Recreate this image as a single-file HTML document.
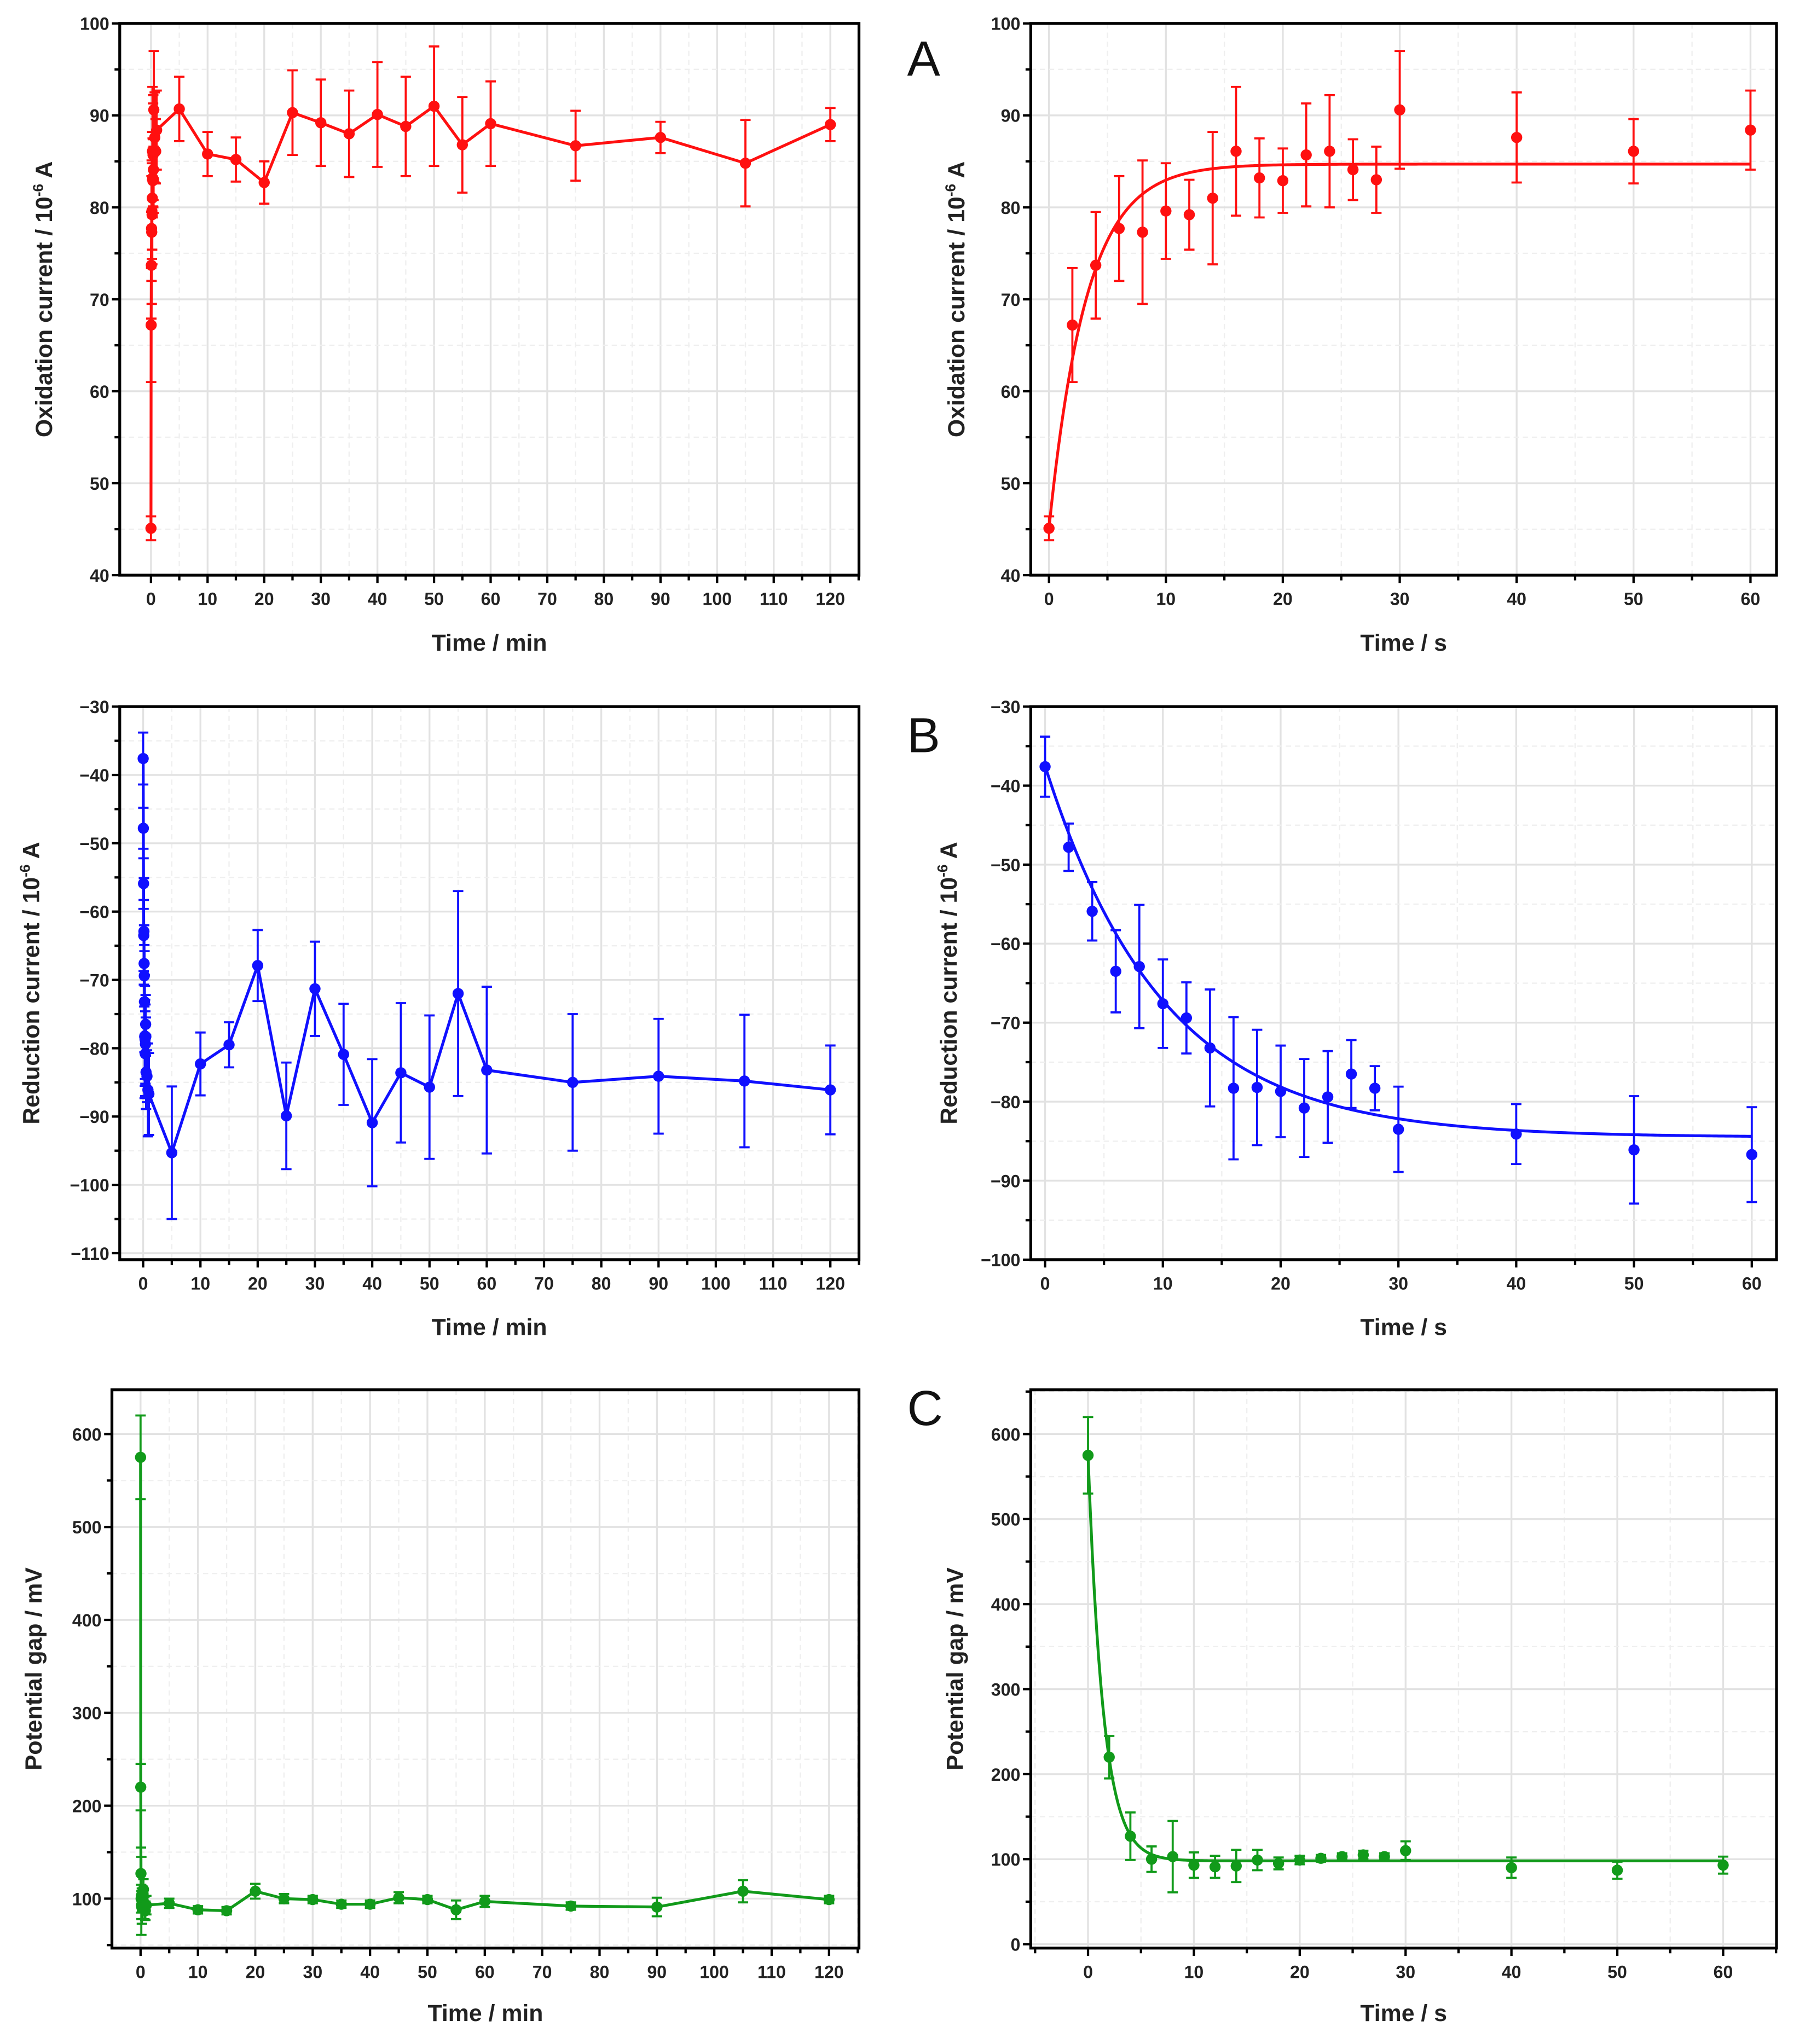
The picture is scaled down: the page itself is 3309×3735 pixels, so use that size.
<!DOCTYPE html>
<html><head><meta charset="utf-8"><style>
html,body{margin:0;padding:0;background:#fff}
svg{display:block}
text{font-family:"Liberation Sans",Arial,sans-serif}
</style></head><body>
<svg id="fig" width="3309" height="3735" viewBox="0 0 1391.5 1570.7" preserveAspectRatio="none" xmlns="http://www.w3.org/2000/svg"></svg>
<script>
// ---- data ----
const oxSecT=[0,2,4,6,8,10,12,14,16,18,20,22,24,26,28,30,40,50,60];
const oxSecV=[45.1,67.2,73.7,77.7,77.3,79.6,79.2,81,86.1,83.2,82.9,85.7,86.1,84.1,83,90.6,87.6,86.1,88.4];
const oxSecE=[1.3,6.2,5.8,5.7,7.8,5.2,3.8,7.2,7,4.3,3.5,5.6,6.1,3.3,3.6,6.4,4.9,3.5,4.3];
const oxMinT=[5,10,15,20,25,30,35,40,45,50,55,60,75,90,105,120];
const oxMinV=[90.7,85.8,85.2,82.7,90.3,89.2,88,90.1,88.8,91,86.8,89.1,86.7,87.6,84.8,89];
const oxMinE=[3.5,2.4,2.4,2.3,4.6,4.7,4.7,5.7,5.4,6.5,5.2,4.6,3.8,1.7,4.7,1.8];
const redSecV=[-37.6,-47.8,-55.9,-63.5,-62.9,-67.6,-69.4,-73.2,-78.3,-78.2,-78.7,-80.8,-79.4,-76.5,-78.3,-83.5,-84.1,-86.1,-86.7];
const redSecE=[3.8,3,3.7,5.2,7.8,5.6,4.5,7.4,9,7.3,5.8,6.2,5.8,4.3,2.8,5.4,3.8,6.8,6];
const redMinV=[-95.3,-82.3,-79.5,-67.9,-89.9,-71.3,-80.9,-90.9,-83.6,-85.7,-72,-83.2,-85,-84.1,-84.8,-86.1];
const redMinE=[9.7,4.6,3.3,5.2,7.8,6.9,7.4,9.3,10.2,10.5,15,12.2,10,8.4,9.7,6.5];
const gapSecV=[575,220,127,100,103,93,91,92,99,95,99,101,103,105,103,110,90,87,93];
const gapSecE=[45,25,28,15,42,15,13,19,12,7,5,4,4,5,4,11,12,10,10];
const gapMinV=[95,88,87,108,100,99,94,94,101,99,88,97,92,91,108,99];
const gapMinE=[5,4,4,8,5,4,4,4,6,4,10,6,4,10,12,4];
// fit parameters (plateau, amplitude, tau)
const oxFit=[84.7,-39.6,3.2];
const redFit=[-84.5,47,10];
const gapFit=[98,477,1.45];

const NS="http://www.w3.org/2000/svg";
const svg=document.getElementById('fig');
function mk(tag,attrs,parent){const e=document.createElementNS(NS,tag);for(const k in attrs)e.setAttribute(k,attrs[k]);(parent||svg).appendChild(e);return e;}

function panel(p){
  const g=mk('g',{});
  
  
  const X=v=>p.x0+(v-p.xa)*(p.x1-p.x0)/(p.xb-p.xa);
  const Y=v=>p.y0+(v-p.ya)*(p.y1-p.y0)/(p.yb-p.ya);
  const L=p.L,R=p.R,T=p.T,B=p.B;
  const eps=1e-6;
  const isMaj=(v,s)=>Math.abs((v/s)-Math.round(v/s))<1e-6;
  for(let v=p.xMin;v<=p.xMaxT+eps;v+=p.xStep/2){const x=X(v);if(x<=L||x>=R)continue;const mj=isMaj(v,p.xStep);
    const gl=mk('line',{x1:x,x2:x,y1:T,y2:B,stroke:mj?'#e2e2e2':'#efefef','stroke-width':mj?1.4:1,'stroke-dasharray':mj?'none':'4 3'},g);}
  for(let v=p.yMinT;v<=p.yMaxT+eps;v+=p.yStep/2){const y=Y(v);if(y<=T||y>=B)continue;const mj=isMaj(v,p.yStep);
    const gl=mk('line',{x1:L,x2:R,y1:y,y2:y,stroke:mj?'#e2e2e2':'#efefef','stroke-width':mj?1.4:1,'stroke-dasharray':mj?'none':'4 3'},g);}
  const fr=mk('rect',{x:L,y:T,width:R-L,height:B-T,fill:'none',stroke:'#000','stroke-width':2.2},g);
  
  for(let v=p.xMin;v<=p.xMaxT+eps;v+=p.xStep/2){const x=X(v);if(x<L-1||x>R+1)continue;
    const major=isMaj(v,p.xStep);
    mk('line',{x1:x,x2:x,y1:B,y2:B+(major?6:4),stroke:'#000','stroke-width':1.8},g);
    if(major){const t=mk('text',{x:x,y:B+23,'text-anchor':'middle','font-size':13.5,'font-weight':'bold',fill:'#222'},g);t.textContent=Math.round(v);
      }}
  for(let v=p.yMinT;v<=p.yMaxT+eps;v+=p.yStep/2){const y=Y(v);if(y<T-1||y>B+1)continue;
    const major=isMaj(v,p.yStep);
    mk('line',{x1:L-(major?6:4),x2:L,y1:y,y2:y,stroke:'#000','stroke-width':1.8},g);
    if(major){const t=mk('text',{x:L-8,y:y+5,'text-anchor':'end','font-size':13.5,'font-weight':'bold',fill:'#222'},g);
      t.textContent=(v<0?'\u2212':'')+Math.abs(Math.round(v));
      }}
  const xt=mk('text',{x:(L+R)/2,y:p.xtY,'text-anchor':'middle','font-size':18,'font-weight':'bold',fill:'#222'},g);
  xt.textContent=p.xTitle;
  const yt=mk('text',{x:0,y:0,'text-anchor':'middle','font-size':18,'font-weight':'bold',fill:'#222',transform:`translate(${p.ytX},${(T+B)/2}) rotate(-90)`},g);
  yt.innerHTML=p.yTitle;
  if(p.letter){const lt=mk('text',{x:p.lx,y:p.ly,'font-size':38,fill:'#111'},g);lt.textContent=p.letter;
    }
  const c=p.color;
  if(p.fit){const f=p.fit;let d='';for(let i=0;i<=300;i++){const t=p.fitA+(p.fitB-p.fitA)*i/300;const v=f[0]+f[1]*Math.exp(-t/f[2]);d+=(i?'L':'M')+X(t).toFixed(2)+','+Y(v).toFixed(2);}
    const fl=mk('path',{d:d,fill:'none',stroke:c,'stroke-width':2.2},g);}
  else{let d='';p.t.forEach((t,i)=>{d+=(i?'L':'M')+X(t).toFixed(2)+','+Y(p.v[i]).toFixed(2);});
    const ln=mk('path',{d:d,fill:'none',stroke:c,'stroke-width':2.2},g);}
  p.t.forEach((t,i)=>{const x=X(t),y1=Y(p.v[i]+p.e[i]),y2=Y(p.v[i]-p.e[i]);
    const eb=mk('path',{d:`M${x},${y1}V${y2}M${x-4},${y1}H${x+4}M${x-4},${y2}H${x+4}`,stroke:c,'stroke-width':1.6,fill:'none'},g);
    
    const pt=mk('circle',{cx:x,cy:Y(p.v[i]),r:4.3,fill:c},g);
    });
}
const toMin=a=>a.map(s=>s/60);
const red='#ff1010',blue='#1010ff',green='#119a1a';
const cur='current / 10<tspan font-size="11" dy="-7">-6</tspan><tspan dy="7"> A</tspan>';
panel({name:'oxidation-minutes-chart',L:92,R:660,T:18,B:442,x0:116,x1:638,xa:0,xb:120,y0:18,y1:442,ya:100,yb:40,
  xMin:0,xMaxT:125,xStep:10,yMinT:40,yMaxT:100,yStep:10,xTitle:'Time / min',yTitle:'Oxidation '+cur,xtY:500,ytX:40,
  color:red,t:toMin(oxSecT).concat(oxMinT),v:oxSecV.concat(oxMinV),e:oxSecE.concat(oxMinE)});
panel({name:'oxidation-seconds-chart',L:792,R:1365,T:18,B:442,x0:806,x1:1345,xa:0,xb:60,y0:18,y1:442,ya:100,yb:40,
  xMin:0,xMaxT:62,xStep:10,yMinT:40,yMaxT:100,yStep:10,xTitle:'Time / s',yTitle:'Oxidation '+cur,xtY:500,ytX:741,letter:'A',lx:697,ly:58,
  color:red,t:oxSecT,v:oxSecV,e:oxSecE,fit:oxFit,fitA:0,fitB:60});
panel({name:'reduction-minutes-chart',L:92,R:660,T:543,B:968,x0:110,x1:638,xa:0,xb:120,y0:543,y1:963,ya:-30,yb:-110,
  xMin:0,xMaxT:125,xStep:10,yMinT:-110,yMaxT:-30,yStep:10,xTitle:'Time / min',yTitle:'Reduction '+cur,xtY:1026,ytX:30,
  color:blue,t:toMin(oxSecT).concat(oxMinT),v:redSecV.concat(redMinV),e:redSecE.concat(redMinE)});
panel({name:'reduction-seconds-chart',L:792,R:1365,T:543,B:968,x0:803,x1:1346,xa:0,xb:60,y0:543,y1:968,ya:-30,yb:-100,
  xMin:0,xMaxT:62,xStep:10,yMinT:-100,yMaxT:-30,yStep:10,xTitle:'Time / s',yTitle:'Reduction '+cur,xtY:1026,ytX:735,letter:'B',lx:697,ly:578,
  color:blue,t:oxSecT,v:redSecV,e:redSecE,fit:redFit,fitA:0,fitB:60});
panel({name:'potential-gap-minutes-chart',L:86,R:660,T:1068,B:1497,x0:108,x1:637,xa:0,xb:120,y0:1102,y1:1459,ya:600,yb:100,
  xMin:0,xMaxT:125,xStep:10,yMinT:50,yMaxT:650,yStep:100,xTitle:'Time / min',yTitle:'Potential gap / mV',xtY:1553,ytX:32,
  color:green,t:toMin(oxSecT).concat(oxMinT),v:gapSecV.concat(gapMinV),e:gapSecE.concat(gapMinE)});
panel({name:'potential-gap-seconds-chart',L:792,R:1365,T:1068,B:1497,x0:836,x1:1324,xa:0,xb:60,y0:1102,y1:1494,ya:600,yb:0,
  xMin:-5,xMaxT:65,xStep:10,yMinT:0,yMaxT:650,yStep:100,xTitle:'Time / s',yTitle:'Potential gap / mV',xtY:1553,ytX:740,letter:'C',lx:697,ly:1095,
  color:green,t:oxSecT,v:gapSecV,e:gapSecE,fit:gapFit,fitA:0,fitB:60});
</script>
</body></html>
